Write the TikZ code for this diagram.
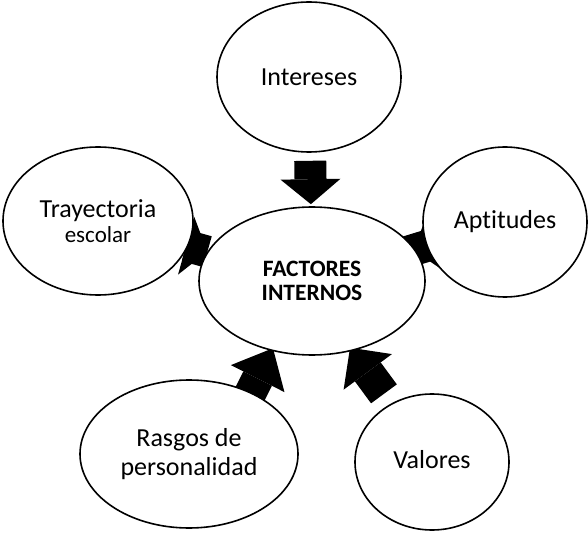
\documentclass[tikz,border=0pt]{standalone}
\usepackage{fontspec}
\setmainfont{Carlito}[Ligatures={NoCommon}]
\usetikzlibrary{shapes.geometric,arrows.meta,backgrounds}
\begin{document}
\begin{tikzpicture}[x=1pt,y=-1pt,
  bubble/.style={draw=black, line width=1.6pt, fill=white, ellipse, inner sep=0pt,
    align=center, font=\fontsize{26}{29}\selectfont},
  bigarrow/.style={line width=32pt, draw=black,
    -{Triangle[length=#1,width=60pt,line width=0pt]}},
  bigarrow/.default=25pt]
\useasboundingbox (0,0) rectangle (588,534);
\node[bubble, minimum width=184pt, minimum height=150pt] (int) at (309,77) {\raisebox{-2pt}{Intereses}};
\node[bubble, minimum width=190pt, minimum height=148pt] (tray) at (98,221)
  {Trayectoria\\[-4pt]{\fontsize{23}{26}\selectfont escolar}};
\node[bubble, minimum width=226pt, minimum height=148pt,
  font=\fontsize{23.5}{23.5}\selectfont\bfseries] (cen) at (312,281) {FACTORES\\INTERNOS};
\node[bubble, minimum width=164pt, minimum height=150pt] (apt) at (505,222) {Aptitudes};
\node[bubble, minimum width=218pt, minimum height=148pt] (ras) at (189,454) {Rasgos de\\personalidad};
\node[bubble, minimum width=154pt, minimum height=136pt] (val) at (432,462) {\raisebox{6pt}{Valores}};
\begin{scope}[on background layer]
\draw[bigarrow, shorten <=8pt, shorten >=2pt] (int) -- (cen);
\draw[bigarrow=22pt, shorten <=-20pt] (tray) -- (cen);
\draw[bigarrow=24pt, shorten <=-25pt, shorten >=-2pt] (apt) -- (cen);
\draw[bigarrow=34pt, shorten >=-3pt, shorten <=-6pt] (ras.45) -- (cen.240);
\draw[bigarrow=30pt, shorten >=-4pt, shorten <=12pt] (val.125) -- (cen.300);
\end{scope}
\end{tikzpicture}
\end{document}
